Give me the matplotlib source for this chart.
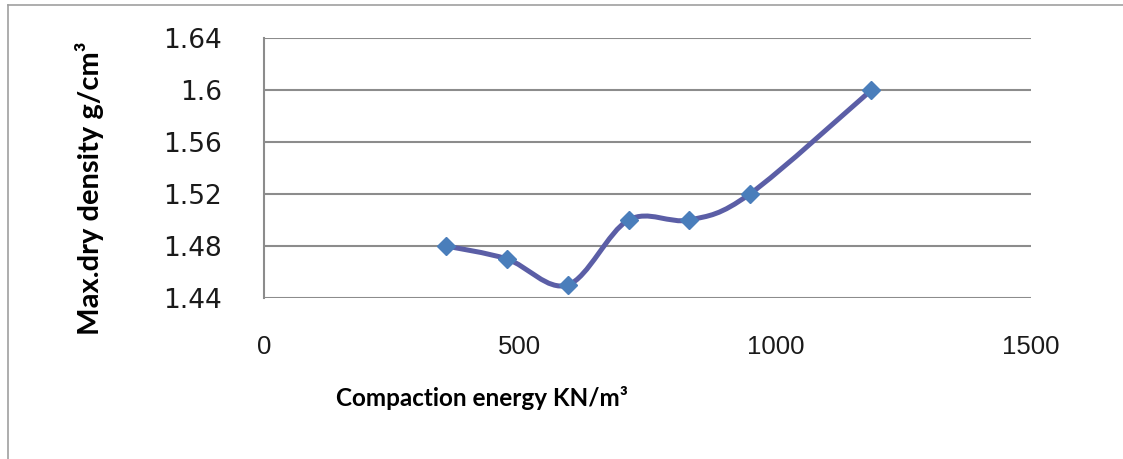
import matplotlib
matplotlib.use("Agg")
import matplotlib.pyplot as plt
from matplotlib.path import Path
from matplotlib.patches import PathPatch
from matplotlib.lines import Line2D
import numpy as np

# data
energy = [356, 475, 594, 713, 832, 950, 1188]
density = [1.48, 1.47, 1.45, 1.50, 1.50, 1.52, 1.60]
yticks = [1.44, 1.48, 1.52, 1.56, 1.60, 1.64]
ytick_labels = ["1.44", "1.48", "1.52", "1.56", "1.6", "1.64"]
xticks = [0, 500, 1000, 1500]

line_col = "#5b5ea6"
marker_col = "#4a7ebb"
grid_col = "#8c8c8c"

fig = plt.figure(figsize=(11.23, 4.59), dpi=100)
ax = fig.add_axes([264 / 1123, 1 - 298 / 459, (1031 - 264) / 1123, (298 - 38) / 459])

# excel style smoothed line: cubic bezier segments (catmull-rom tangents)
pts = np.column_stack([energy, density]).astype(float)
verts = [pts[0]]
codes = [Path.MOVETO]
n = len(pts)
for i in range(n - 1):
    p_prev = pts[i - 1] if i > 0 else pts[i]
    p_next2 = pts[i + 2] if i + 2 < n else pts[i + 1]
    c1 = pts[i] + (pts[i + 1] - p_prev) / 6
    c2 = pts[i + 1] - (p_next2 - pts[i]) / 6
    verts += [c1, c2, pts[i + 1]]
    codes += [Path.CURVE4] * 3
ax.add_patch(PathPatch(Path(verts, codes), facecolor="none", edgecolor=line_col,
                       lw=3.6, capstyle="round", joinstyle="round", zorder=3))
ax.plot(energy, density, ls="none", marker="D", ms=9, color=marker_col,
        markeredgecolor=marker_col, zorder=4)

ax.set_xlim(0, 1500)
ax.set_ylim(1.44, 1.64)
ax.set_yticks(yticks)
ax.set_yticklabels(ytick_labels, family="DejaVu Sans", fontsize=19, color="#1a1a1a")
ax.set_xticks(xticks)
ax.set_xticklabels([str(v) for v in xticks], family="Liberation Sans", fontsize=18.5, color="#1a1a1a")
ax.tick_params(axis="y", length=0, pad=30)
ax.tick_params(axis="x", length=0, pad=27)
ax.grid(axis="y", color=grid_col, lw=1.5)
ax.set_axisbelow(True)
for s in ["top", "right", "bottom"]:
    ax.spines[s].set_visible(False)
ax.spines["left"].set_color(grid_col)
ax.spines["left"].set_linewidth(1.5)

ax.set_xlabel("Compaction energy KN/m³", family="Lato", weight="bold", fontsize=17.5)
ax.xaxis.set_label_coords((482 - 264) / (1031 - 264), -(398 - 298) / (298 - 38))
ax.set_ylabel("Max.dry density g/cm³", family="Lato", weight="bold", fontsize=21)
ax.yaxis.set_label_coords(-(264 - 90) / (1031 - 264), (298 - 188) / (298 - 38))
ax.xaxis.label.set_va("center")
ax.yaxis.label.set_va("center")

# chart frame (top and left edges visible)
fig.add_artist(Line2D([8 / 1123, 8 / 1123], [0, 1 - 5 / 459], transform=fig.transFigure,
                      color="#a0a0a0", lw=1.2))
fig.add_artist(Line2D([8 / 1123, 1], [1 - 5 / 459, 1 - 5 / 459], transform=fig.transFigure,
                      color="#a0a0a0", lw=1.2))

fig.savefig("out.png", dpi=100)
